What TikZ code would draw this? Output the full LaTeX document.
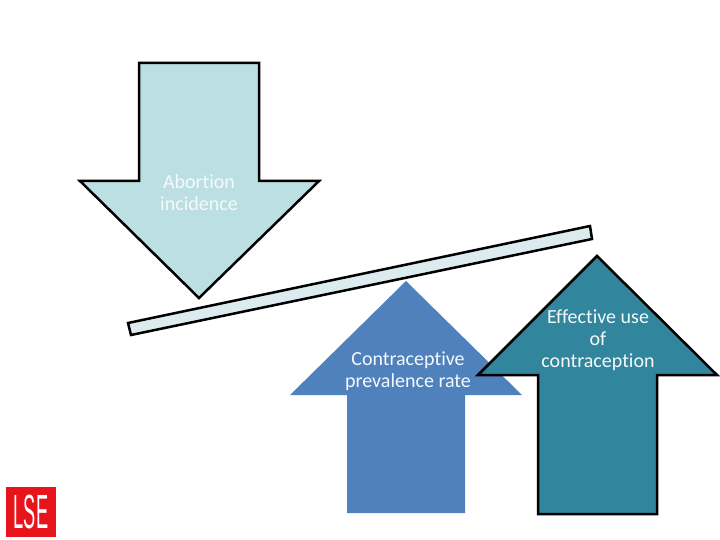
\documentclass[tikz,border=0pt]{standalone}
\usepackage{fontspec}
\setmainfont[Ligatures=NoCommon]{Carlito}
\newfontfamily\logofont{Liberation Sans}
\definecolor{paleteal}{HTML}{BBDFE2}
\definecolor{palebar}{HTML}{DCECEE}
\definecolor{midblue}{HTML}{4F81BD}
\definecolor{darkteal}{HTML}{31859C}
\definecolor{lserod}{HTML}{E8141C}
\tikzset{
  outline/.style={draw=black, line width=2.5pt, line join=miter},
  arrowtext/.style={align=center, font=\fontsize{20}{22}\selectfont, text=#1, inner sep=0pt}
}
\begin{document}
\begin{tikzpicture}[x=1pt,y=-1pt]
        \useasboundingbox (0,0) rectangle (720,540);

        % Downward arrow
        \draw[outline, fill=paleteal] (139,63) -- (259,63) -- (259,181) -- (319,181) -- (199,298) -- (80,181) -- (139,181) -- cycle;
        \node[arrowtext=paleteal!15!white] (abortion) at (199,192.5) {Abortion\\incidence};

        % Lever
        \draw[outline, fill=palebar] (128,323) -- (590,226) -- (592,239) -- (131,335) -- cycle;

        % Middle arrow, no outline
        \fill[midblue] (406,281) -- (522,395) -- (465,395) -- (465,513) -- (347,513) -- (347,395) -- (290,395) -- cycle;
        \node[arrowtext=white!95!midblue] (prevalence) at (408,371) {Contraceptive\\prevalence rate};

        % Right arrow
        \draw[outline, fill=darkteal] (597,256) -- (717,375) -- (657,375) -- (657,514) -- (538,514) -- (538,375) -- (478,375) -- cycle;
        \node[arrowtext=white!95!darkteal] (effective) at (598,340) {Effective use\\of\\contraception};

        % Logo
        \fill[lserod] (6,487) rectangle (56,537);
        \node[text=white, inner sep=0pt, font=\logofont\fontsize{48}{48}\selectfont, xscale=0.38] (logo) at (31,512) {LSE};
    \end{tikzpicture}
\end{document}
